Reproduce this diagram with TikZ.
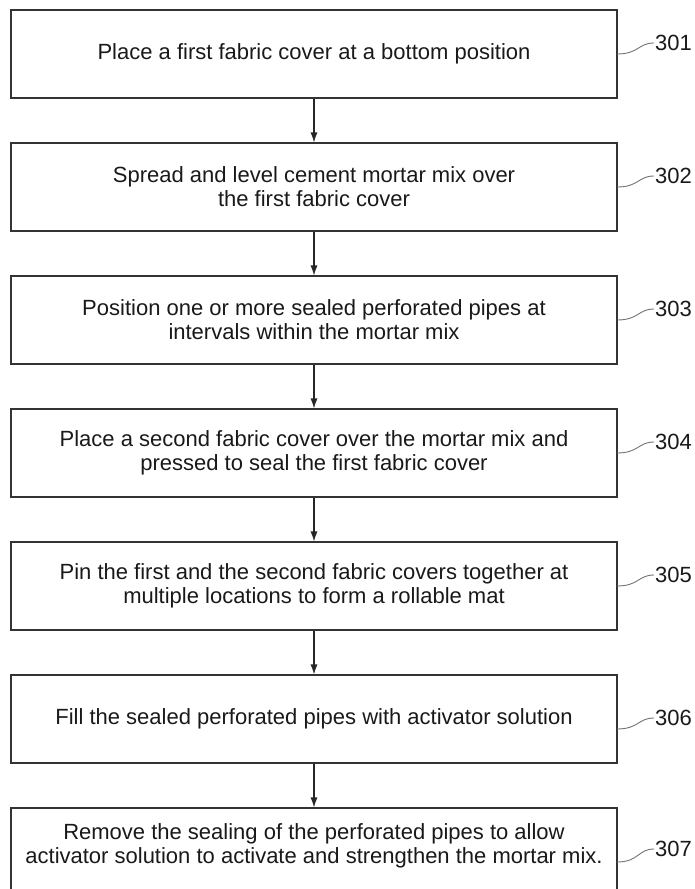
\documentclass[tikz,border=0pt]{standalone}
\usepackage{fontspec}
\setmainfont{Liberation Sans}
\usetikzlibrary{arrows.meta}
\begin{document}
\begin{tikzpicture}[x=1pt,y=-1pt,
  stepbox/.style={draw=black!80, line width=1.1pt, minimum width=606pt, minimum height=88pt,
    align=center, font=\fontsize{22}{24}\selectfont, text=black!90, inner sep=0pt},
  flow/.style={draw=black!85, line width=1.1pt, -{Latex[length=10pt,width=7pt]}},
  leader/.style={draw=black!55, line width=0.9pt},
  reflabel/.style={font=\fontsize{22}{24}\selectfont, text=black!90, anchor=west, inner sep=0pt}]
\clip (0,0) rectangle (695,889);
\node[stepbox] (b1) at (314,54) {Place a first fabric cover at a bottom position};
\node[stepbox] (b2) at (314,187) {Spread and level cement mortar mix over\\the first fabric cover};
\node[stepbox] (b3) at (314,320) {Position one or more sealed perforated pipes at\\intervals within the mortar mix};
\node[stepbox] (b4) at (314,453) {Place a second fabric cover over the mortar mix and\\pressed to seal the first fabric cover};
\node[stepbox] (b5) at (314,586) {Pin the first and the second fabric covers together at\\multiple locations to form a rollable mat};
\node[stepbox] (b6) at (314,719) {Fill the sealed perforated pipes with activator solution};
\node[stepbox, minimum height=100pt] (b7) at (314,858) {};
\node[align=center, font=\fontsize{22}{24}\selectfont, text=black!90, inner sep=0pt] (t7) at (314,846)
  {Remove the sealing of the perforated pipes to allow\\activator solution to activate and strengthen the mortar mix.};

\draw[flow] (b1) -- (b2);
\draw[flow] (b2) -- (b3);
\draw[flow] (b3) -- (b4);
\draw[flow] (b4) -- (b5);
\draw[flow] (b5) -- (b6);
\draw[flow] (b6) -- (b7);

\node[reflabel] (l1) at (655,43) {301};
\node[reflabel] (l2) at (655,176) {302};
\node[reflabel] (l3) at (655,309) {303};
\node[reflabel] (l4) at (655,442) {304};
\node[reflabel] (l5) at (655,575) {305};
\node[reflabel] (l6) at (655,718) {306};
\node[reflabel] (l7) at (655,849) {307};

\coordinate (s1) at (617,54);
\coordinate (s2) at (617,187);
\coordinate (s3) at (617,320);
\coordinate (s4) at (617,453);
\coordinate (s5) at (617,586);
\coordinate (s6) at (617,729);
\coordinate (s7) at (617,862);
\foreach \i in {1,...,7}{
  \draw[leader] (s\i) .. controls +(22,0) and +(-16,0) .. ([xshift=-1pt]l\i.west);
}
\end{tikzpicture}
\end{document}
